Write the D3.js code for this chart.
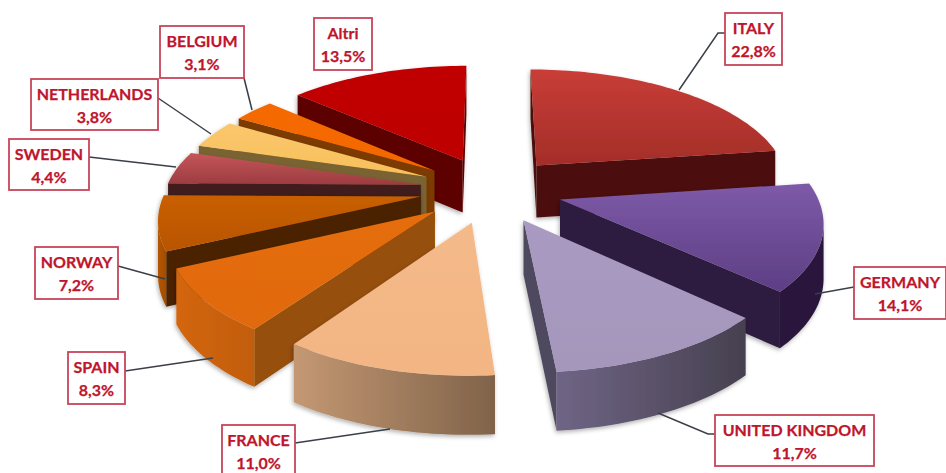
<!DOCTYPE html>
<html>
<head>
<meta charset="utf-8">
<script src="https://cdnjs.cloudflare.com/ajax/libs/d3/7.8.5/d3.min.js"></script>
<style>
html,body{margin:0;padding:0;background:#fff;}
svg{display:block;}
text{font-family:Lato,"Open Sans",sans-serif;font-weight:700;fill:#c0152c;stroke:#c0152c;stroke-width:0.25px;font-size:16px;text-anchor:middle;}
</style>
</head>
<body>
<svg id="chart" width="946" height="473"></svg>
<script>
// Market shares, clockwise from the back of the pie
const countries = ["ITALY","GERMANY","UNITED KINGDOM","FRANCE","SPAIN","NORWAY","SWEDEN","NETHERLANDS","BELGIUM","Altri"];
const shares = [22.8,14.1,11.7,11.0,8.3,7.2,4.4,3.8,3.1,13.5];

// Slice paints: top gradient (two stops), radial wall, curved wall gradient (two stops)
const topFrom  = ["#c93d37","#7d5aa8","#a99ac2","#f5ba8a","#e56d0b","#c85f04","#c4565a","#fbc76c","#f56b00","#c00000"];
const topTo    = ["#a32e29","#5d3e84","#a596bc","#f2b583","#e06a0a","#b95503","#9c3c40","#f7c05c","#f26800","#be0000"];
const wallFlat = ["#4b110d","#2d1b40","#4f4960","#8a6a4f","#964f07","#4c2300","#411b1d","#7a6431","#7b3a01","#5b0000"];
const curveFrom= ["#4b110d","#2a193c","#6f6585","#c49873","#d3660b","#b55603","#411b1d","#7a6431","#7b3a01","#5b0000"];
const curveTo  = ["#4b110d","#2a193c","#46404f","#80634a","#c25d09","#a14d02","#411b1d","#7a6431","#7b3a01","#5b0000"];

// Label boxes: left, top, right, bottom
const boxX0 = [725,854,715,222,68,35,9,31,160,314];
const boxY0 = [13,267,415,425,352,247,139,79,26,18];
const boxX1 = [782,946,874,295,125,118,89,158,244,372];
const boxY1 = [65,319,466,477,404,299,190,130,78,70];

// Leader polylines from box to slice
const leaders = [
  [[725,33],[718,33],[679,90]],
  [[854,287],[815,294]],
  [[715,434],[708,434],[658,413]],
  [[295,443],[390,429]],
  [[125,371],[213,358]],
  [[118,266],[165,279]],
  [[89,157],[176,167]],
  [[158,98],[211,134]],
  [[244,78],[252,110]],
  []
];

// Pie geometry on the ground plane, radius 1, seen in perspective
const centerX = 491, centerY = 189.5, scaleX = 255, scaleY = 117.7, persp = 0.155;
const explode = 0.28, wallHeight = 53;

const svg = d3.select("#chart");
const defs = svg.append("defs");

const shadow = defs.append("filter").attr("id","soft")
  .attr("x","-10%").attr("y","-10%").attr("width","120%").attr("height","120%");
shadow.append("feDropShadow").attr("dx",-1).attr("dy",2).attr("stdDeviation",2)
  .attr("flood-color","#000").attr("flood-opacity",0.3);

const pie = d3.pie().sort(null).startAngle(0).endAngle(2*Math.PI);
const arcs = pie(shares);

const sx = d3.scaleLinear().domain([0,1]).range([0,scaleX]);
const sy = d3.scaleLinear().domain([0,1]).range([0,scaleY]);

function project(X, Y){
  const s = 1/(1+persp*Y);
  return {x:centerX+sx(X)*s, y:centerY-sy(Y)*s, s};
}
const lower = p => [p.x, p.y+wallHeight*Math.sqrt(p.s)];
const upper = p => [p.x, p.y];
const line = d3.line();

const slices = arcs.map((a,i)=>{
  const mid=(a.startAngle+a.endAngle)/2;
  const ox=explode*Math.sin(mid), oy=explode*Math.cos(mid);
  const steps=Math.max(8,Math.round((a.endAngle-a.startAngle)*40));
  const rim=d3.range(steps+1).map(k=>{
    const t=a.startAngle+(a.endAngle-a.startAngle)*k/steps;
    return project(ox+Math.sin(t),oy+Math.cos(t));
  });
  return {i,apex:project(ox,oy),rim,depth:oy};
}).sort((p,q)=>q.depth-p.depth);

// Closed outline of a wall hanging under a run of top-edge points
function wall(run){
  return line(run.map(upper).concat(run.slice().reverse().map(lower)))+"Z";
}

slices.forEach(sl=>{
  const i=sl.i;
  const g=svg.append("g").attr("filter","url(#soft)");
  const xs=sl.rim.map(p=>p.x), ys=[sl.apex.y].concat(sl.rim.map(p=>p.y));

  const topGrad=defs.append("linearGradient").attr("id","top"+i)
    .attr("gradientUnits","userSpaceOnUse")
    .attr("x1",0).attr("x2",0).attr("y1",d3.min(ys)).attr("y2",d3.max(ys));
  topGrad.append("stop").attr("offset",0).attr("stop-color",topFrom[i]);
  topGrad.append("stop").attr("offset",1).attr("stop-color",topTo[i]);

  const curveGrad=defs.append("linearGradient").attr("id","curve"+i)
    .attr("gradientUnits","userSpaceOnUse")
    .attr("y1",0).attr("y2",0).attr("x1",d3.min(xs)).attr("x2",d3.max(xs));
  curveGrad.append("stop").attr("offset",0).attr("stop-color",curveFrom[i]);
  curveGrad.append("stop").attr("offset",1).attr("stop-color",curveTo[i]);

  // Walls facing the viewer run right to left along the clockwise outline
  const first=sl.rim[0], last=sl.rim[sl.rim.length-1];
  if(first.x<sl.apex.x) g.append("path").attr("d",wall([sl.apex,first])).attr("fill",wallFlat[i]);
  if(sl.apex.x<last.x) g.append("path").attr("d",wall([last,sl.apex])).attr("fill",wallFlat[i]);
  const facing=sl.rim.filter((p,k)=>
    (k<sl.rim.length-1 && sl.rim[k+1].x<p.x) || (k>0 && p.x<sl.rim[k-1].x));
  if(facing.length>1){
    g.append("path").attr("d",wall(facing)).attr("fill","url(#curve"+i+")");
  }
  g.append("path").attr("d",line([upper(sl.apex)].concat(sl.rim.map(upper)))+"Z")
    .attr("fill","url(#top"+i+")");
});

// Leader lines sit under the label boxes
svg.append("g").selectAll("path").data(leaders).join("path")
  .attr("d",d=>d.length?line(d):null)
  .attr("fill","none").attr("stroke","#3b3f47").attr("stroke-width",1.5);

const labels=svg.append("g").selectAll("g").data(countries).join("g");
labels.append("rect")
  .attr("x",(d,i)=>boxX0[i]).attr("y",(d,i)=>boxY0[i])
  .attr("width",(d,i)=>boxX1[i]-boxX0[i]).attr("height",(d,i)=>boxY1[i]-boxY0[i])
  .attr("fill","#fff").attr("stroke","#c8455a").attr("stroke-width",1.8);
labels.append("text")
  .attr("x",(d,i)=>(boxX0[i]+boxX1[i])/2).attr("y",(d,i)=>boxY0[i]+21)
  .text(d=>d);
labels.append("text")
  .attr("x",(d,i)=>(boxX0[i]+boxX1[i])/2).attr("y",(d,i)=>boxY0[i]+44)
  .text((d,i)=>d3.format(".1f")(shares[i]).replace(".",",")+"%");
</script>
</body>
</html>
